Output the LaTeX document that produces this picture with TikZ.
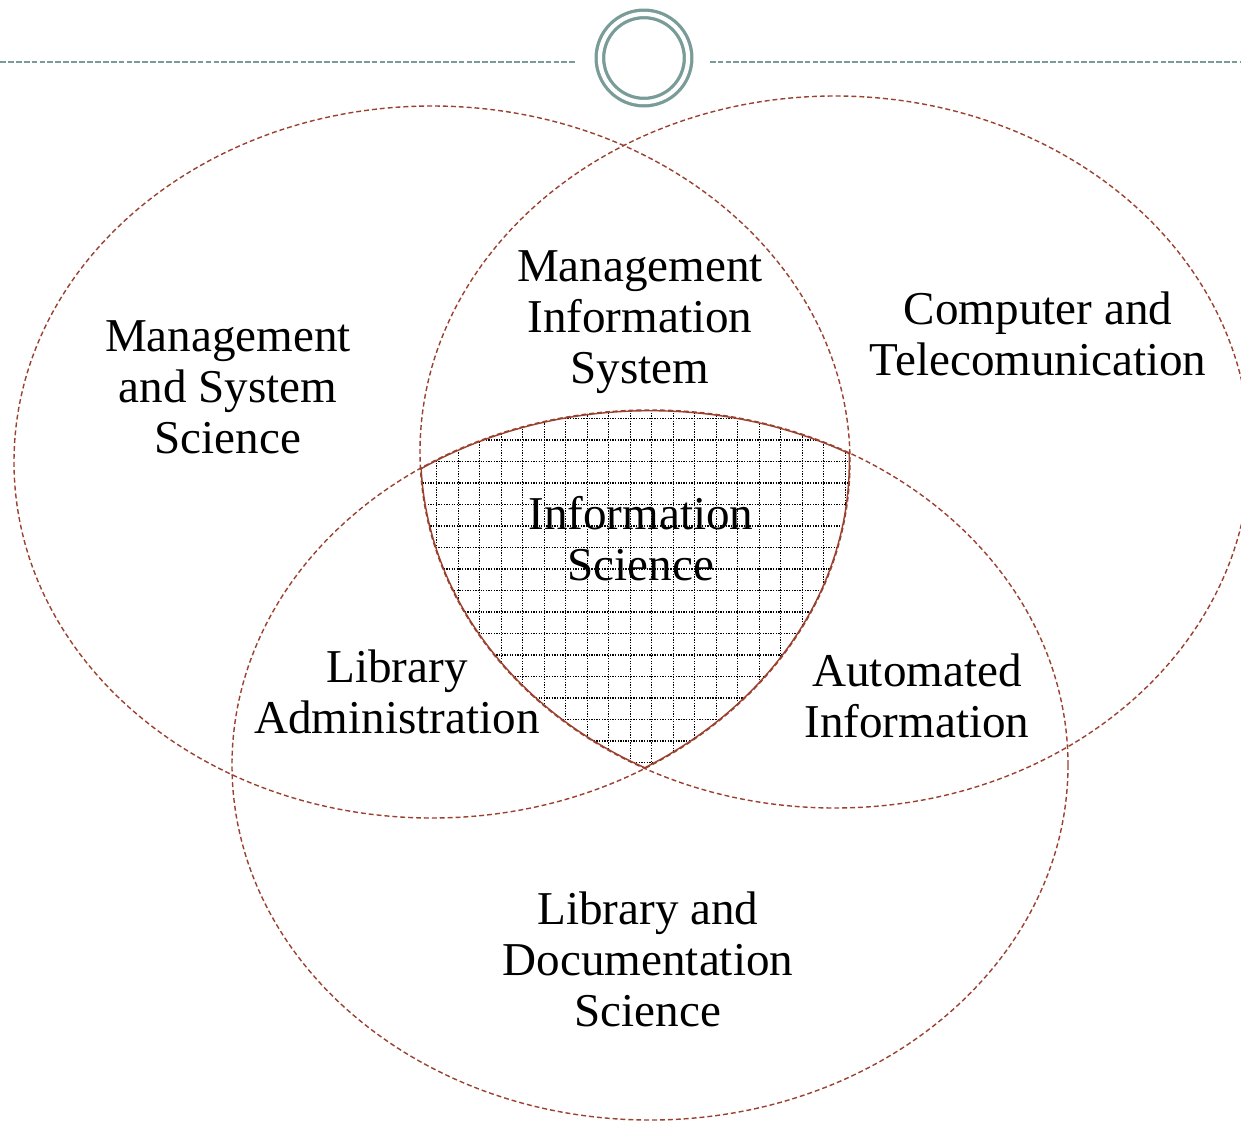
\documentclass[tikz,border=0pt]{standalone}
\usepackage{fontspec}
\setmainfont{Liberation Serif}
\usetikzlibrary{positioning}
\usetikzlibrary{calc}
\definecolor{setred}{RGB}{155,65,48}
\definecolor{slate}{RGB}{122,156,153}
\tikzset{set/.style={draw=setred, line width=0.8pt, dash pattern=on 2.8pt off 1.7pt}}
\tikzset{rim/.style={draw=setred, line width=1.6pt}}
\tikzset{mesh/.style={draw=black, line width=0.65pt, dash pattern=on 0.75pt off 0.75pt, step=0.43}}
\tikzset{lbl/.style={align=center, inner sep=0pt, font=\fontsize{26.8}{29}\selectfont}}
\tikzset{rule/.style={draw=slate, line width=0.9pt, dash pattern=on 3.3pt off 1.2pt}}
\tikzset{ring/.style={draw=slate, circle, line width=1.87pt, double=white, double distance=2.4pt, inner sep=0pt, minimum size=1.764cm}}

\begin{document}
\begin{tikzpicture}
\useasboundingbox (0,0) rectangle (24.82,-22.42);

%%% Header:

\node[ring] (badge) at (12.88,-1.16) {};
\coordinate (ruleL) at (0,-1.24);
\coordinate (ruleR) at (24.82,-1.24);
\draw[rule] (ruleL) -- ($(badge.west |- ruleL) + (-0.44,0)$);
\draw[rule] ($(badge.east |- ruleR) + (0.4,0)$) -- (ruleR);

%%% Sets:

\coordinate (cMS) at (8.64,-9.24);
\coordinate (cCT) at (16.70,-9.04);
\coordinate (cLD) at (13.0,-15.3);

\begin{scope}
\clip (cMS) ellipse [x radius=8.36, y radius=7.12];
\clip (cCT) ellipse [x radius=8.30, y radius=7.12];
\clip (cLD) ellipse [x radius=8.36, y radius=7.10];
\draw[mesh, shift={(8.734,-8.8)}] (-0.6,-7.6) grid (9.2,0.6);
\draw[rim] (cMS) ellipse [x radius=8.36, y radius=7.12];
\draw[rim] (cCT) ellipse [x radius=8.30, y radius=7.12];
\draw[rim] (cLD) ellipse [x radius=8.36, y radius=7.10];
\end{scope}

\draw[set] (cMS) ellipse [x radius=8.36, y radius=7.12];
\draw[set] (cCT) ellipse [x radius=8.30, y radius=7.12];
\draw[set] (cLD) ellipse [x radius=8.36, y radius=7.10];

%%% Labels:

\node[lbl] (mss) at (4.56,-7.74) {Management\\and System\\Science};
\node[lbl] (mis) at (12.80,-6.44) {Management\\Information\\System};
\node[lbl] (ct) at (20.76,-6.68) {Computer and\\Telecomunication};
\node[lbl] (is) at (12.82,-10.78) {Information\\Science};
\node[lbl] (la) at (7.94,-13.84) {Library\\Administration};
\node[lbl] (ai) at (18.34,-13.92) {Automated\\Information};
\node[lbl] (lds) at (12.96,-19.18) {Library and\\Documentation\\Science};

\end{tikzpicture}
\end{document}
